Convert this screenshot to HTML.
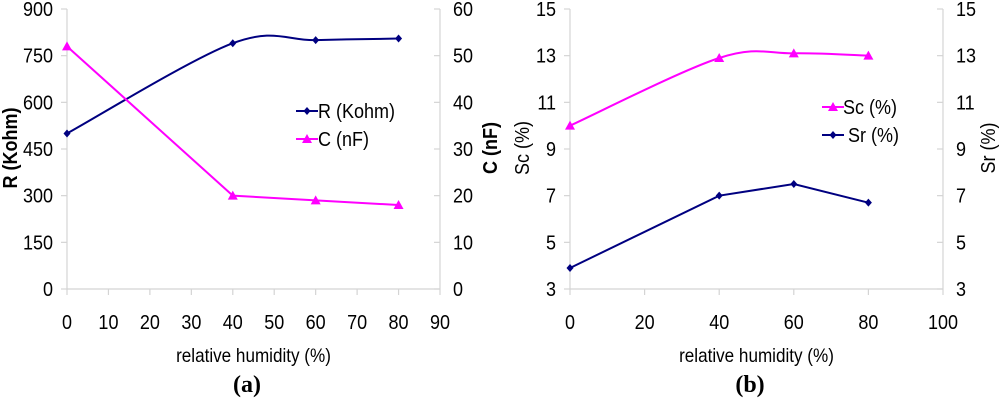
<!DOCTYPE html>
<html><head><meta charset="utf-8">
<style>
html,body{margin:0;padding:0;background:#fff;}
svg{display:block;font-family:"Liberation Sans",sans-serif;}
</style></head>
<body>
<svg id="fig" width="1000" height="400" viewBox="0 0 1000 400"></svg>
<script>
const humidity = [0, 40, 60, 80];
const rKohm = [500, 790, 800, 805];
const cNf = [52, 20, 19, 18];
const scPct = [10, 12.9, 13.1, 13.0];
const srPct = [3.9, 7.0, 7.5, 6.7];
const aXTicks = [0,10,20,30,40,50,60,70,80,90];
const aLeftTicks = [0,150,300,450,600,750,900];
const aRightTicks = [0,10,20,30,40,50,60];
const bXTicks = [0,20,40,60,80,100];
const bYTicks = [3,5,7,9,11,13,15];

const NS = "http://www.w3.org/2000/svg";
const svg = document.getElementById('fig');
const SX = 0.9;
function mk(tag, attrs, parent, txt){
  const e = document.createElementNS(NS, tag);
  for (const k in attrs) e.setAttribute(k, attrs[k]);
  if (txt !== undefined) e.textContent = txt;
  (parent||svg).appendChild(e);
  return e;
}
function stext(parent, x, y, size, anchor, str, extra){
  const a = Object.assign({transform:`translate(${x},${y}) scale(${SX},1)`,x:0,y:0,'font-size':size,'text-anchor':anchor,fill:'#000'}, extra||{});
  return mk('text', a, parent, str);
}
function lin(d0,d1,r0,r1){return v=>r0+(v-d0)/(d1-d0)*(r1-r0);}
function smoothPath(pts){
  let d = "M"+pts[0][0]+","+pts[0][1];
  for (let i=0;i<pts.length-1;i++){
    const p0=pts[Math.max(0,i-1)], p1=pts[i], p2=pts[i+1], p3=pts[Math.min(pts.length-1,i+2)];
    const t=1/6;
    const c1=[p1[0]+(p2[0]-p0[0])*t, p1[1]+(p2[1]-p0[1])*t];
    const c2=[p2[0]-(p3[0]-p1[0])*t, p2[1]-(p3[1]-p1[1])*t];
    d+=" C"+c1.join(",")+" "+c2.join(",")+" "+p2.join(",");
  }
  return d;
}
function diamond(g,x,y,col){
  return mk('path',{d:`M${x},${y-4}L${x+3.5},${y}L${x},${y+4}L${x-3.5},${y}Z`,fill:col},g);
}
function tri(g,x,y,col){
  return mk('path',{d:`M${x},${y-5}L${x+5},${y+4}L${x-5},${y+4}Z`,fill:col},g);
}

function panel(o){
  const g = mk('g',{});
  
  
  const x = lin(o.xd[0],o.xd[1],o.x0,o.x1);
  const yl = lin(o.yl[0],o.yl[1],289,9);
  const yr = lin(o.yr[0],o.yr[1],289,9);
  const ax = mk('g',{stroke:'#d4d4d4','stroke-width':1.2,fill:'none'},g);
  
  
  mk('line',{x1:o.x0,y1:9,x2:o.x0,y2:289},ax);
  mk('line',{x1:o.x1,y1:9,x2:o.x1,y2:289},ax);
  mk('line',{x1:o.x0,y1:289,x2:o.x1,y2:289},ax);
  o.xt.forEach(v=>{
    mk('line',{x1:x(v),y1:289,x2:x(v),y2:295},ax);
    const t = stext(g, x(v), 329, 20, 'middle', String(v));
    
    
  });
  o.ylt.forEach(v=>{
    mk('line',{x1:o.x0-6,y1:yl(v),x2:o.x0,y2:yl(v)},ax);
    const t = stext(g, o.x0-14, yl(v)+7, 20, 'end', String(v));
    
    
  });
  o.yrt.forEach(v=>{
    mk('line',{x1:o.x1-6,y1:yr(v),x2:o.x1,y2:yr(v)},ax);
    const t = stext(g, o.x1+13, yr(v)+7, 20, 'start', String(v));
    
    
  });
  const xt = stext(g, (o.x0+o.x1)/2 + (o.xtOff||0), 362, 19, 'middle', 'relative humidity (%)');
  
  
  const cap = mk('text',{x:o.capX,y:392,'font-size':24,'font-weight':'bold','text-anchor':'middle','font-family':'Liberation Serif, serif'},g,o.cap);
  
  
  const lt = mk('text',{transform:`translate(${o.ltX},148) rotate(-90) scale(${SX},1)`,'font-size':20,'font-weight':o.titleW,'text-anchor':'middle'},g,o.lTitle);
  
  
  const rt = mk('text',{transform:`translate(${o.rtX},148) rotate(-90) scale(${SX},1)`,'font-size':20,'font-weight':o.titleW,'text-anchor':'middle'},g,o.rTitle);
  
  

  o.series.forEach(s=>{
    const sc = s.axis==='l'?yl:yr;
    const pts = humidity.map((h,i)=>[x(h),sc(s.vals[i])]);
    const sg = mk('g',{},g);
    
    
    const d = s.smooth?smoothPath(pts):"M"+pts.map(p=>p.join(",")).join("L");
    const p = mk('path',{d:d,fill:'none',stroke:s.col,'stroke-width':2},sg);
    
    
    pts.forEach(pt=>{
      const m = s.mark==='d'?diamond(sg,pt[0],pt[1],s.col):tri(sg,pt[0],pt[1],s.col);
      
      
    });
    const lg = mk('g',{},g);
    
    
    mk('line',{x1:s.lx,y1:s.ly,x2:s.lx+22,y2:s.ly,stroke:s.col,'stroke-width':2},lg);
    if (s.mark==='d') diamond(lg,s.lx+11,s.ly,s.col); else tri(lg,s.lx+11,s.ly,s.col);
    stext(lg, s.tx, s.ly+7, 20, 'start', s.label);
  });
}

panel({name:'chart-a',x0:67,x1:440,xd:[0,90],yl:[0,900],yr:[0,60],xt:aXTicks,ylt:aLeftTicks,yrt:aRightTicks,
  cap:'(a)',capX:247,lTitle:'R (Kohm)',rTitle:'C (nF)',ltX:17,rtX:497,titleW:'bold',
  series:[
    {id:'r-kohm',vals:rKohm,axis:'l',col:'#000080',mark:'d',smooth:true,lx:296,ly:111,tx:318,label:'R (Kohm)'},
    {id:'c-nf',vals:cNf,axis:'r',col:'#ff00ff',mark:'t',smooth:false,lx:296,ly:139,tx:318,label:'C (nF)'}
  ]});
panel({name:'chart-b',x0:570,x1:943,xd:[0,100],yl:[3,15],yr:[3,15],xt:bXTicks,ylt:bYTicks,yrt:bYTicks,
  cap:'(b)',capX:750,lTitle:'Sc (%)',rTitle:'Sr (%)',ltX:529,rtX:995,titleW:'normal',
  series:[
    {id:'sc',vals:scPct,axis:'l',col:'#ff00ff',mark:'t',smooth:true,lx:822,ly:107,tx:843,label:'Sc (%)'},
    {id:'sr',vals:srPct,axis:'r',col:'#000080',mark:'d',smooth:false,lx:822,ly:135,tx:848,label:'Sr (%)'}
  ]});
</script>
</body></html>
